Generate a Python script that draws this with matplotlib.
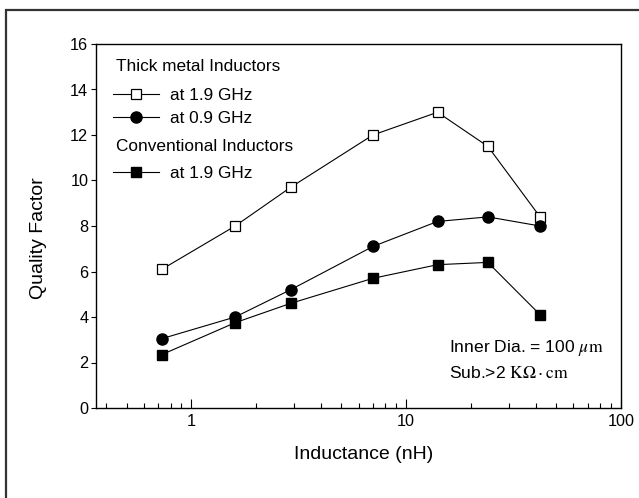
import matplotlib
matplotlib.use("Agg")
import matplotlib.pyplot as plt
from matplotlib.patches import Rectangle

plt.rcParams['font.family'] = ['Liberation Sans', 'DejaVu Sans']
plt.rcParams['mathtext.fontset'] = 'stix'

# inductance (nH)
inductance = [0.73, 1.6, 2.9, 7.0, 14.0, 24.0, 42.0]
# quality factor
q_thick_19 = [6.1, 8.0, 9.7, 12.0, 13.0, 11.5, 8.4]
q_thick_09 = [3.05, 4.0, 5.2, 7.1, 8.2, 8.4, 8.0]
q_conv_19 = [2.35, 3.75, 4.6, 5.7, 6.3, 6.4, 4.1]

yticks = [0, 2, 4, 6, 8, 10, 12, 14, 16]

fig = plt.figure(figsize=(6.39, 4.98), dpi=100)
ax = fig.add_axes([96 / 639, 90 / 498, 525 / 639, 364 / 498])

# outer frame
fig.patches.append(Rectangle((5.5 / 639, -0.1), 1.2, 1.1 - 10 / 498,
                             transform=fig.transFigure, fill=False,
                             edgecolor='#333333', linewidth=1.6))

l1, = ax.plot(inductance, q_thick_19, '-s', color='black', lw=0.8,
              mfc='white', mec='black', mew=0.9, ms=7.5)
l2, = ax.plot(inductance, q_thick_09, '-o', color='black', lw=0.8,
              mfc='black', mec='black', ms=8)
l3, = ax.plot(inductance, q_conv_19, '-s', color='black', lw=0.8,
              mfc='black', mec='black', ms=7.5)

ax.set_xscale('log')
ax.set_xlim(0.36, 100)
ax.set_ylim(0, 16)
ax.set_yticks(yticks)
ax.set_xticks([1, 10, 100])
ax.set_xticklabels(['1', '10', '100'])

ax.tick_params(axis='x', which='major', direction='in', length=6.5, width=0.8,
               labelsize=11.7, pad=4)
ax.tick_params(axis='x', which='minor', direction='in', length=3.6, width=0.8)
ax.tick_params(axis='y', which='major', direction='out', length=3.5, width=0.8,
               labelsize=11.7, pad=2)
for s in ax.spines.values():
    s.set_linewidth(1.0)

ax.set_xlabel('Inductance (nH)', fontsize=14)
ax.set_ylabel('Quality Factor', fontsize=14)
ax.xaxis.set_label_coords(0.51, -0.104)
ax.xaxis.label.set_va('top')
ax.yaxis.set_label_coords(-0.093, 0.468)

# legend
ax.text(0.038, 0.9376, 'Thick metal Inductors', transform=ax.transAxes,
        fontsize=12.4, va='center', ha='left')
ax.text(0.038, 0.718, 'Conventional Inductors', transform=ax.transAxes,
        fontsize=12.4, va='center', ha='left')
kw = dict(loc='upper left', frameon=False, fontsize=12.4, borderpad=0,
          borderaxespad=0, handlelength=2.67, handletextpad=0.64,
          labelspacing=0.42, numpoints=1)
leg1 = ax.legend([l1, l2], ['at 1.9 GHz', 'at 0.9 GHz'],
                 bbox_to_anchor=(0.0324, 0.878), **kw)
ax.add_artist(leg1)
ax.legend([l3], ['at 1.9 GHz'], bbox_to_anchor=(0.0324, 0.664), **kw)

ax.text(0.672, 0.165, r'Inner Dia. = 100 $\mu\mathrm{m}$', transform=ax.transAxes,
        fontsize=12.6, va='center', ha='left')
ax.text(0.672, 0.096, r'Sub.>2 $\mathrm{K\Omega\cdot cm}$', transform=ax.transAxes,
        fontsize=12.6, va='center', ha='left')

fig.savefig('out.png', dpi=100)
